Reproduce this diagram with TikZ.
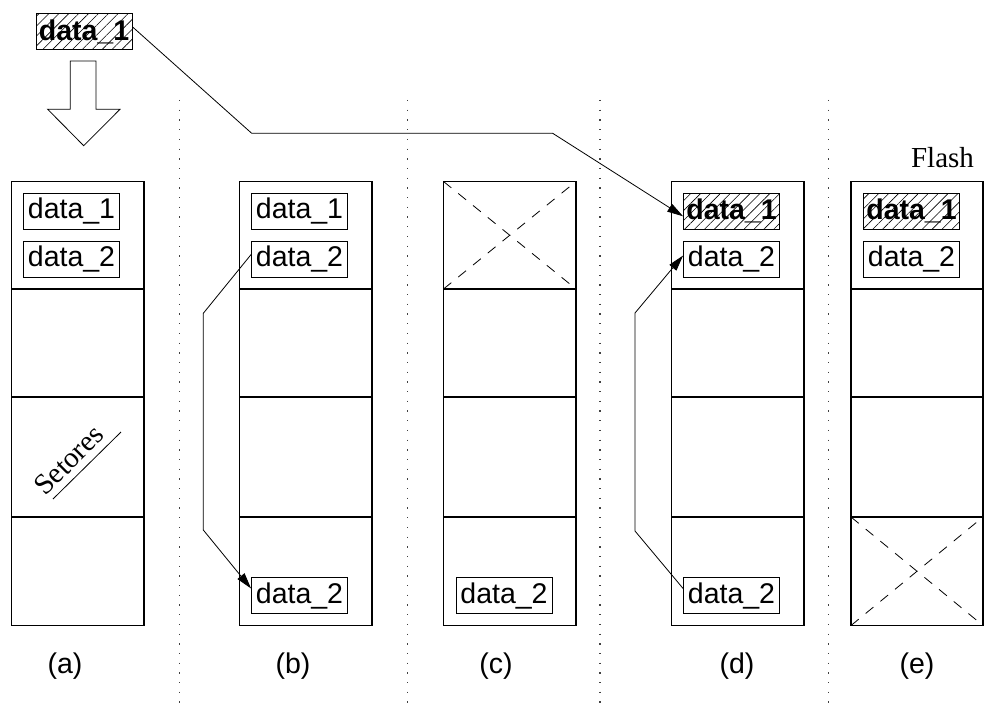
\documentclass[tikz,border=0pt]{standalone}
\usepackage{fontspec}
\setmainfont{Liberation Sans}
\newfontfamily\serifface{Liberation Serif}
\usetikzlibrary{arrows.meta,patterns.meta}
\begin{document}
\begin{tikzpicture}[x=1pt,y=-1pt,
  outer/.style={draw,line width=1.1pt},
  item/.style={draw,line width=0.8pt,minimum width=96pt,minimum height=36pt,inner sep=0pt,font=\fontsize{28.5}{32}\selectfont},
  hot/.style={item,pattern={Lines[angle=45,distance=7pt,line width=0.6pt]},font=\fontsize{28.5}{32}\selectfont\bfseries},
  sepline/.style={line width=1.3pt,dash pattern=on 1.3pt off 8.4pt,black!75},
  conn/.style={line width=0.8pt,-{Triangle[length=16pt,width=9pt]}},
  crossline/.style={line width=0.8pt,dash pattern=on 10pt off 9pt},
  lab/.style={font=\fontsize{28.5}{32}\selectfont},
  serif/.style={font=\serifface\fontsize{29}{33}\selectfont}]
\useasboundingbox (0,0) rectangle (984,706);

% separators
\foreach \sx in {179.5,407.7,600,828.3}
  \draw[sepline] (\sx,100) -- (\sx,706);

% columns
\foreach \cx/\cw in {11.5/132.5,239.5/132.5,443.5/132.5,671.5/132.5,851/132}{
  \draw[outer] (\cx,181.5) rectangle (\cx+\cw,625.5);
  \foreach \ry in {289,397,517}
    \draw[outer] (\cx,\ry) -- (\cx+\cw,\ry);
}

% crossed-out sectors
\draw[crossline] (443.5,181.5) -- (576,289) (443.5,289) -- (576,181.5);
\draw[crossline] (851,517) -- (983,625.5) (851,625.5) -- (983,517);

% data items
\node[hot] (top) at (84,31.7) {data\_1};
\node[item] (a1) at (71.5,211.3) {data\_1};
\node[item] (a2) at (71.5,259.5) {data\_2};
\node[item] (b1) at (299.5,211.3) {data\_1};
\node[item] (b2) at (299.5,259.5) {data\_2};
\node[item] (b3) at (299.5,595.5) {data\_2};
\node[item] (c3) at (504,595.5) {data\_2};
\node[hot]  (d1) at (731.5,211.3) {data\_1};
\node[item] (d2) at (731.5,259.5) {data\_2};
\node[item] (d3) at (731.5,595.5) {data\_2};
\node[hot]  (e1) at (911.5,211.3) {data\_1};
\node[item] (e2) at (911.5,259.5) {data\_2};

% hollow arrow
\draw[line width=0.8pt] (70.3,61) -- (96,61) -- (96,109.3) -- (120,109.3) -- (83.7,145.7) -- (47.7,109.3) -- (70.3,109.3) -- cycle;

% Setores
\node[serif,rotate=45,inner sep=0pt] (set) at (69,460) {Setores};
\coordinate (ul1) at (53,499);
\coordinate (ul2) at (121,432);
\draw[line width=0.8pt] (ul1) -- (ul2);

% Flash
\node[serif,anchor=base] (flash) at (942.5,167) {Flash};

% connectors
\coordinate (k1) at (251.7,133.3);
\coordinate (k2) at (552.7,133.3);
\draw[conn] ([yshift=5pt]top.east) -- (k1) -- (k2) -- ([yshift=-5pt]d1.west);

\coordinate (bb1) at (203.3,313.3);
\coordinate (bb2) at (203.3,530);
\draw[conn] ([yshift=5pt]b2.west) -- (bb1) -- (bb2) -- ([yshift=7pt]b3.west);

\coordinate (dd1) at (635,531);
\coordinate (dd2) at (635,313);
\draw[conn] ([yshift=7pt]d3.west) -- (dd1) -- (dd2) -- ([yshift=4pt]d2.west);

% labels
\node[lab] (la) at (65,666) {(a)};
\node[lab] (lb) at (293,666) {(b)};
\node[lab] (lc) at (496,666) {(c)};
\node[lab] (ld) at (737,666) {(d)};
\node[lab] (le) at (917,666) {(e)};
\end{tikzpicture}
\end{document}
